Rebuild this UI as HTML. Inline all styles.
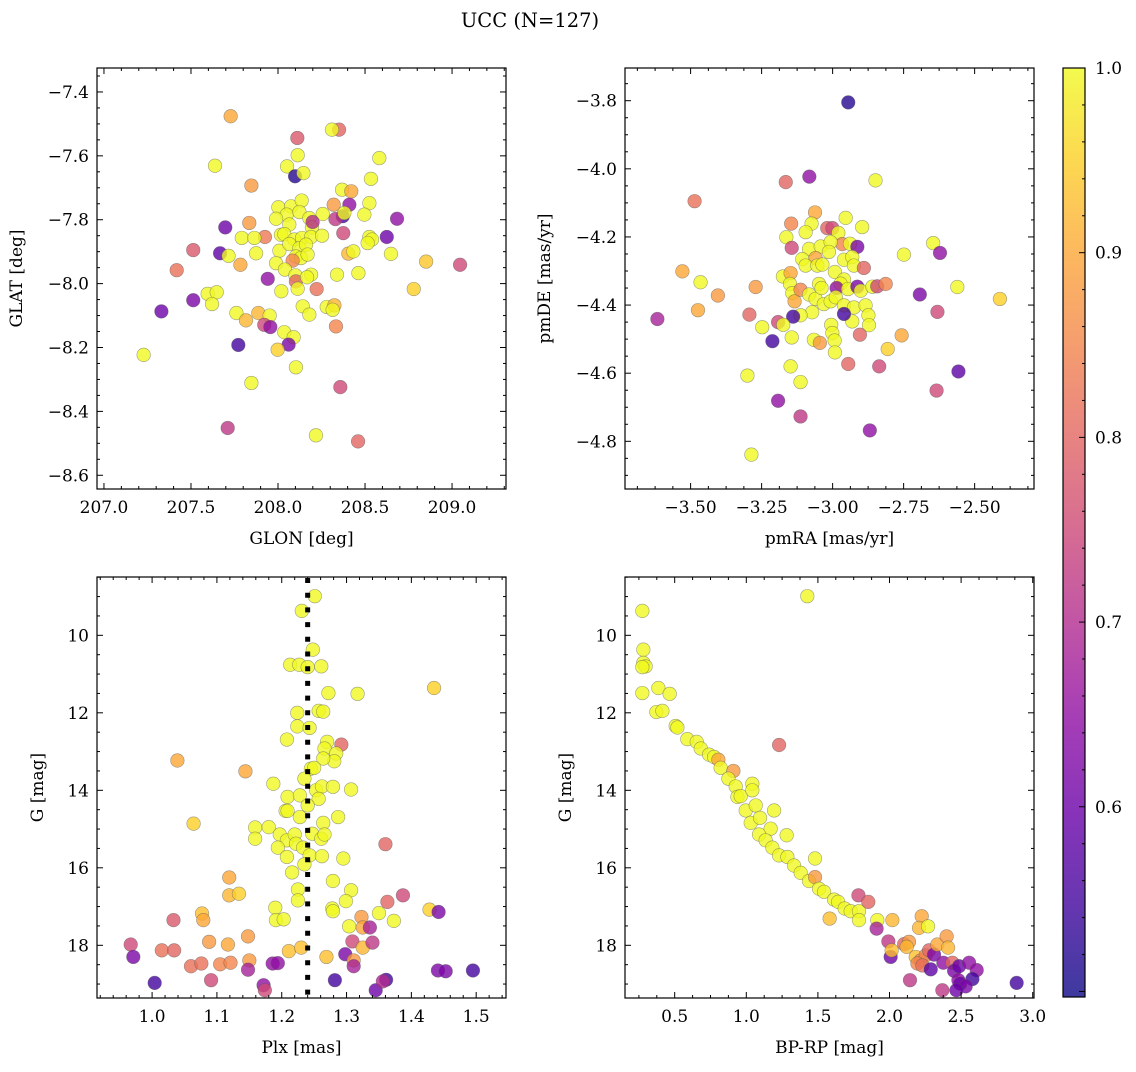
<!DOCTYPE html>
<html><head><meta charset="utf-8">
<style>
html,body{margin:0;padding:0;background:#fff;}
svg text{font-family:"DejaVu Serif","Liberation Serif",serif;fill:#000;}
</style></head>
<body>
<svg id="chart" width="1136" height="1067" viewBox="0 0 1136 1067" xmlns="http://www.w3.org/2000/svg">
<rect width="1136" height="1067" fill="#fff"/>
<text x="530" y="27" font-size="19.5" text-anchor="middle">UCC (N=127)</text>
</svg>
<script>
// ---------- data ----------
const glon=[207.728,208.351,208.310,208.111,208.113,208.582,207.638,208.052,208.098,208.146,207.847,208.534,208.368,208.421,208.320,208.410,208.525,208.372,208.330,208.381,208.496,208.684,207.697,207.835,208.375,208.625,207.513,207.667,207.716,207.418,207.784,207.925,207.792,207.864,207.874,208.525,208.540,208.515,208.404,208.433,208.649,208.851,209.046,207.941,208.222,208.339,208.462,208.780,207.596,207.648,207.621,207.513,207.330,207.761,207.816,207.887,207.952,207.921,207.956,208.142,208.180,208.280,208.324,208.314,208.333,208.036,208.090,208.061,207.998,207.772,207.228,208.103,207.847,208.358,207.711,208.218,208.460,208.002,208.075,208.136,208.050,208.123,208.180,207.989,208.065,208.195,208.257,208.199,208.017,208.036,208.094,208.138,208.190,208.253,208.008,208.065,208.123,208.161,208.103,208.132,208.084,208.170,207.989,208.040,208.100,208.103,208.113,208.190,208.167,208.019];
const glat=[-7.476,-7.518,-7.518,-7.544,-7.598,-7.607,-7.631,-7.633,-7.664,-7.654,-7.693,-7.672,-7.706,-7.711,-7.753,-7.753,-7.748,-7.789,-7.798,-7.779,-7.784,-7.797,-7.824,-7.810,-7.842,-7.854,-7.895,-7.905,-7.913,-7.958,-7.941,-7.854,-7.857,-7.857,-7.905,-7.854,-7.862,-7.873,-7.906,-7.899,-7.907,-7.931,-7.941,-7.985,-8.017,-7.972,-7.967,-8.017,-8.032,-8.027,-8.064,-8.052,-8.087,-8.092,-8.115,-8.092,-8.100,-8.129,-8.136,-8.071,-8.097,-8.073,-8.068,-8.082,-8.134,-8.152,-8.168,-8.191,-8.207,-8.192,-8.223,-8.262,-8.311,-8.324,-8.452,-8.475,-8.494,-7.761,-7.758,-7.740,-7.784,-7.776,-7.795,-7.797,-7.815,-7.824,-7.782,-7.807,-7.847,-7.845,-7.862,-7.857,-7.854,-7.850,-7.897,-7.876,-7.889,-7.878,-7.915,-7.920,-7.928,-7.909,-7.936,-7.956,-7.974,-7.993,-8.016,-7.972,-7.980,-8.024];
const probA=[0.9,0.8,0.98,0.78,0.98,0.98,0.98,0.98,0.52,0.98,0.88,0.98,0.98,0.9,0.88,0.65,0.98,0.55,0.72,0.98,0.98,0.65,0.6,0.88,0.75,0.6,0.78,0.58,0.98,0.82,0.9,0.83,0.98,0.98,0.98,0.98,0.98,0.98,0.92,0.98,0.98,0.94,0.75,0.65,0.82,0.98,0.98,0.95,0.98,0.98,0.98,0.62,0.6,0.98,0.92,0.92,0.98,0.75,0.65,0.98,0.98,0.98,0.92,0.98,0.85,0.98,0.98,0.62,0.95,0.55,0.98,0.98,0.98,0.75,0.72,0.98,0.8,0.98,0.98,0.98,0.98,0.98,0.98,0.98,0.98,0.98,0.98,0.7,0.98,0.98,0.98,0.98,0.98,0.98,0.98,0.98,0.98,0.98,0.98,0.98,0.85,0.98,0.98,0.98,0.98,0.8,0.98,0.98,0.98,0.98];

const pmra=[-2.945,-3.082,-3.165,-2.849,-3.486,-3.062,-3.146,-3.074,-2.954,-2.896,-3.095,-3.019,-3.001,-2.980,-3.163,-3.144,-2.966,-2.939,-2.913,-2.646,-2.622,-2.749,-3.083,-3.042,-3.007,-3.013,-3.107,-3.060,-3.095,-3.054,-3.036,-2.960,-2.931,-2.925,-2.890,-3.529,-3.465,-3.404,-3.271,-3.474,-3.617,-3.175,-3.148,-3.150,-3.142,-3.134,-3.113,-3.083,-3.060,-3.048,-3.039,-2.992,-2.960,-2.972,-2.986,-2.946,-2.913,-2.901,-2.860,-2.843,-2.813,-3.031,-3.007,-2.989,-2.960,-2.925,-2.884,-2.874,-2.872,-2.931,-2.960,-3.072,-3.113,-3.139,-3.192,-3.174,-3.248,-3.144,-3.066,-3.045,-3.005,-3.001,-2.993,-2.992,-2.904,-2.757,-2.806,-2.945,-2.836,-3.212,-2.693,-2.561,-2.411,-2.631,-3.293,-3.300,-3.148,-3.113,-3.192,-3.113,-2.869,-2.634,-2.557,-3.286];
const pmde=[-3.805,-4.023,-4.039,-4.034,-4.095,-4.128,-4.161,-4.161,-4.144,-4.171,-4.186,-4.174,-4.174,-4.188,-4.201,-4.232,-4.221,-4.220,-4.229,-4.218,-4.247,-4.252,-4.235,-4.228,-4.215,-4.244,-4.265,-4.262,-4.284,-4.284,-4.281,-4.267,-4.259,-4.284,-4.291,-4.301,-4.333,-4.372,-4.347,-4.415,-4.441,-4.316,-4.306,-4.338,-4.365,-4.389,-4.355,-4.369,-4.382,-4.338,-4.350,-4.303,-4.325,-4.337,-4.350,-4.353,-4.346,-4.358,-4.346,-4.345,-4.338,-4.397,-4.389,-4.377,-4.401,-4.407,-4.401,-4.430,-4.459,-4.448,-4.426,-4.421,-4.430,-4.434,-4.450,-4.458,-4.465,-4.495,-4.502,-4.511,-4.458,-4.482,-4.504,-4.539,-4.487,-4.489,-4.529,-4.573,-4.580,-4.506,-4.369,-4.347,-4.382,-4.420,-4.428,-4.607,-4.580,-4.626,-4.681,-4.727,-4.768,-4.651,-4.595,-4.839];
const probB=[0.52,0.65,0.8,0.98,0.82,0.9,0.85,0.98,0.98,0.98,0.98,0.8,0.75,0.98,0.98,0.75,0.85,0.98,0.62,0.98,0.65,0.98,0.98,0.98,0.98,0.98,0.98,0.9,0.98,0.98,0.98,0.98,0.98,0.98,0.8,0.9,0.98,0.88,0.88,0.9,0.68,0.98,0.9,0.98,0.98,0.9,0.85,0.98,0.98,0.98,0.98,0.98,0.98,0.98,0.65,0.98,0.62,0.98,0.98,0.75,0.85,0.98,0.98,0.98,0.98,0.98,0.98,0.98,0.98,0.98,0.55,0.98,0.98,0.55,0.75,0.98,0.98,0.98,0.98,0.88,0.98,0.98,0.98,0.98,0.8,0.9,0.95,0.8,0.75,0.55,0.62,0.98,0.95,0.75,0.8,0.98,0.98,0.98,0.65,0.72,0.65,0.75,0.58,0.98];

const plx=[1.251,1.231,1.248,1.213,1.227,1.240,1.261,1.435,1.272,1.317,1.224,1.257,1.264,1.224,1.243,1.208,1.039,1.292,1.270,1.266,1.284,1.281,1.264,1.144,1.245,1.250,1.187,1.235,1.209,1.228,1.253,1.262,1.279,1.307,1.257,1.240,1.206,1.209,1.228,1.264,1.287,1.064,1.159,1.180,1.159,1.197,1.208,1.220,1.222,1.194,1.247,1.261,1.266,1.233,1.243,1.262,1.208,1.216,1.235,1.295,1.360,1.119,1.119,1.134,1.225,1.225,1.279,1.307,1.299,1.387,1.363,1.428,1.442,1.033,1.077,1.079,1.190,1.191,1.203,1.278,1.279,1.350,1.373,1.323,1.304,1.325,1.336,0.967,0.971,1.004,1.015,1.034,1.060,1.076,1.091,1.088,1.117,1.105,1.121,1.148,1.150,1.148,1.186,1.194,1.172,1.174,1.211,1.230,1.269,1.309,1.325,1.340,1.298,1.311,1.311,1.282,1.345,1.361,1.356,1.441,1.453,1.495];
const gmagC=[8.99,9.37,10.37,10.76,10.76,10.82,10.80,11.36,11.49,11.51,12.00,11.95,11.97,12.35,12.39,12.69,13.23,12.82,12.75,12.92,13.05,13.25,13.18,13.51,13.44,13.42,13.83,13.70,14.17,14.13,14.00,13.90,13.91,13.98,14.22,14.39,14.53,14.53,14.69,14.84,14.69,14.86,14.96,14.95,15.25,15.14,15.29,15.14,15.38,15.48,15.12,15.25,15.14,15.48,15.68,15.70,15.72,16.12,15.91,15.76,15.39,16.25,16.71,16.67,16.56,16.84,16.34,16.58,16.86,16.71,16.88,17.08,17.14,17.35,17.18,17.35,17.03,17.35,17.33,17.05,17.12,17.17,17.37,17.27,17.51,17.54,17.54,17.98,18.30,18.97,18.13,18.13,18.54,18.47,18.90,17.91,17.98,18.49,18.45,17.77,18.39,18.63,18.47,18.46,19.03,19.16,18.15,18.06,18.30,17.90,18.06,17.93,18.23,18.39,18.54,18.90,19.16,18.89,18.93,18.65,18.67,18.65];
const probC=[0.98,0.98,0.98,0.98,0.98,0.98,0.98,0.95,0.98,0.98,0.98,0.98,0.98,0.98,0.98,0.98,0.9,0.8,0.98,0.98,0.98,0.98,0.98,0.9,0.98,0.98,0.98,0.98,0.98,0.98,0.98,0.98,0.98,0.98,0.98,0.98,0.98,0.98,0.98,0.98,0.98,0.95,0.98,0.98,0.98,0.98,0.98,0.98,0.98,0.98,0.98,0.98,0.98,0.98,0.98,0.98,0.98,0.98,0.98,0.98,0.8,0.9,0.92,0.95,0.98,0.98,0.98,0.98,0.98,0.75,0.8,0.95,0.62,0.78,0.93,0.9,0.98,0.98,0.98,0.98,0.98,0.98,0.98,0.88,0.98,0.9,0.68,0.75,0.62,0.55,0.82,0.8,0.82,0.82,0.75,0.88,0.9,0.85,0.85,0.88,0.88,0.68,0.65,0.65,0.65,0.75,0.93,0.93,0.93,0.75,0.92,0.72,0.62,0.88,0.68,0.55,0.6,0.55,0.7,0.62,0.62,0.55];

const bprp=[1.426,0.274,0.281,0.281,0.297,0.274,0.274,0.386,0.465,0.372,0.414,0.507,0.519,0.588,0.654,0.682,0.740,0.775,0.805,0.821,1.229,0.910,0.875,0.926,0.938,0.961,1.042,1.042,0.996,1.066,1.194,1.031,1.096,1.170,1.089,1.135,1.182,1.282,1.229,1.287,1.333,1.380,1.438,1.480,1.480,1.508,1.543,1.613,1.641,1.687,1.729,1.787,1.787,1.582,1.783,1.852,1.915,1.910,2.020,2.225,2.206,2.269,1.992,2.008,2.015,2.102,2.136,2.120,2.183,2.218,2.253,2.276,2.311,2.334,2.399,2.409,2.195,2.230,2.288,2.376,2.439,2.451,2.486,2.556,2.609,2.579,2.481,2.493,2.532,2.467,2.369,2.143,2.888];
const gmagD=[8.99,9.37,10.37,10.71,10.80,10.82,11.49,11.36,11.51,11.98,11.95,12.34,12.38,12.68,12.75,12.92,13.08,13.14,13.21,13.42,12.83,13.50,13.70,13.90,14.17,14.15,13.83,14.00,14.52,14.39,14.52,14.84,14.71,14.99,15.14,15.29,15.48,15.16,15.68,15.72,15.94,16.13,16.34,15.76,16.24,16.54,16.62,16.82,16.88,17.05,17.12,17.12,17.35,17.31,16.71,16.88,17.35,17.57,17.35,17.25,17.55,17.51,17.90,18.30,18.13,17.97,17.91,18.04,18.30,18.39,18.26,18.13,18.24,17.98,17.77,18.06,18.47,18.52,18.62,18.45,18.45,18.66,18.54,18.45,18.64,18.87,18.90,18.99,19.06,19.16,19.16,18.90,18.97];
const probD=[0.98,0.98,0.98,0.98,0.98,0.98,0.98,0.98,0.98,0.98,0.98,0.98,0.98,0.98,0.98,0.98,0.98,0.98,0.9,0.98,0.8,0.88,0.98,0.98,0.98,0.98,0.98,0.98,0.98,0.98,0.98,0.98,0.98,0.98,0.98,0.98,0.98,0.98,0.98,0.98,0.98,0.98,0.98,0.98,0.88,0.98,0.98,0.98,0.98,0.98,0.98,0.98,0.98,0.93,0.75,0.8,0.98,0.68,0.92,0.9,0.92,0.98,0.72,0.6,0.93,0.8,0.88,0.92,0.93,0.85,0.85,0.8,0.62,0.9,0.88,0.92,0.85,0.82,0.58,0.65,0.8,0.62,0.6,0.65,0.65,0.55,0.65,0.6,0.62,0.6,0.72,0.72,0.55];

const plxLine=[1.240];
const colorTicks=[0.6,0.7,0.8,0.9,1.0];

// ---------- helpers ----------
const NS="http://www.w3.org/2000/svg";
const svg=document.getElementById('chart');
function mk(tag,attrs,parent){const e=document.createElementNS(NS,tag);for(const k in attrs)e.setAttribute(k,attrs[k]);(parent||svg).appendChild(e);return e;}
const VMIN=0.497,VMAX=1.0;
const stops=[[13,8,135],[65,4,157],[106,0,168],[143,13,164],[177,42,144],[204,71,120],[225,100,98],[242,132,75],[252,166,54],[252,206,37],[240,249,33]];
function plasma(v){let t=Math.max(0,Math.min(1,(v-VMIN)/(VMAX-VMIN)))*10;const i=Math.min(9,Math.floor(t)),f=t-i;const a=stops[i],b=stops[i+1];return 'rgb('+a.map((x,k)=>Math.round(x+(b[k]-x)*f)).join(',')+')';}
function scale(d0,d1,r0,r1){return v=>r0+(v-d0)/(d1-d0)*(r1-r0);}
function fmt(v,dec){return (v<0?'\u2212':'')+Math.abs(v).toFixed(dec);}

function panel(o){
  const g=mk('g',{});
  
  
  const [x0,y0,x1,y1]=o.box;
  const sx=scale(o.xd[0],o.xd[1],x0,x1), sy=scale(o.yd[0],o.yd[1],y0,y1);
  const pg=mk('g',{},g);
  
  
  for(let i=0;i<o.xs.length;i++){
    const cv=o.cs[i]>=0.98?1.0:o.cs[i];
    const c=mk('circle',{cx:sx(o.xs[i]),cy:sy(o.ys[i]),r:6.8,fill:plasma(cv),'fill-opacity':0.8,stroke:'#555','stroke-opacity':0.55,'stroke-width':0.6},pg);
    
    
  }
  if(o.extra)o.extra(g,sx,sy);
  const fr=mk('rect',{x:x0,y:y0,width:x1-x0,height:y1-y0,fill:'none',stroke:'#000','stroke-width':1.2},g);
  
  
  const lo=(a,b)=>Math.min(a,b), hi=(a,b)=>Math.max(a,b);
  const xa=mk('g',{},g);
  
  
  for(let v=Math.ceil(lo(...o.xd)/o.xmin-1e-6)*o.xmin; v<=hi(...o.xd)+1e-9; v+=o.xmin){
    const px=sx(v); const maj=Math.abs(v/o.xmaj-Math.round(v/o.xmaj))<1e-4; const L=maj?6:3;
    mk('line',{x1:px,x2:px,y1:y1,y2:y1-L,stroke:'#000','stroke-width':1},xa);
    mk('line',{x1:px,x2:px,y1:y0,y2:y0+L,stroke:'#000','stroke-width':1},xa);
    if(maj){const t=mk('text',{x:px,y:y1+24,'font-size':17,'text-anchor':'middle'},xa);t.textContent=fmt(Math.round(v/o.xmaj)*o.xmaj,o.xdec);
      
      }
  }
  const ya=mk('g',{},g);
  
  
  for(let v=Math.ceil(lo(...o.yd)/o.ymin-1e-6)*o.ymin; v<=hi(...o.yd)+1e-9; v+=o.ymin){
    const py=sy(v); const maj=Math.abs(v/o.ymaj-Math.round(v/o.ymaj))<1e-4; const L=maj?6:3;
    mk('line',{x1:x0,x2:x0+L,y1:py,y2:py,stroke:'#000','stroke-width':1},ya);
    mk('line',{x1:x1,x2:x1-L,y1:py,y2:py,stroke:'#000','stroke-width':1},ya);
    if(maj){const t=mk('text',{x:x0-8,y:py+6,'font-size':17,'text-anchor':'end'},ya);t.textContent=fmt(Math.round(v/o.ymaj)*o.ymaj,o.ydec);
      
      }
  }
  const xl=mk('text',{x:(x0+x1)/2,y:y1+55,'font-size':17,'text-anchor':'middle'},g);
  xl.textContent=o.xlabel;
  
  
  const yl=mk('text',{x:o.ylx,y:(y0+y1)/2,'font-size':17,'text-anchor':'middle',transform:'rotate(-90 '+o.ylx+' '+((y0+y1)/2)+')'},g);
  yl.textContent=o.ylabel;
  
  
}

panel({name:'glon-glat-panel',box:[97,68,506,489],xd:[206.96,209.31],yd:[-7.325,-8.643],xs:glon,ys:glat,cs:probA,
  xmaj:0.5,xmin:0.1,xdec:1,ymaj:0.2,ymin:0.05,ydec:1,xlabel:'GLON [deg]',ylabel:'GLAT [deg]',ylx:22});
panel({name:'pm-panel',box:[625,68,1034,489],xd:[-3.731,-2.291],yd:[-3.704,-4.940],xs:pmra,ys:pmde,cs:probB,
  xmaj:0.25,xmin:0.0625,xdec:2,ymaj:0.2,ymin:0.05,ydec:1,xlabel:'pmRA [mas/yr]',ylabel:'pmDE [mas/yr]',ylx:550});
panel({name:'plx-g-panel',box:[97,577,506,998],xd:[0.915,1.546],yd:[8.495,19.36],xs:plx,ys:gmagC,cs:probC,
  xmaj:0.1,xmin:0.02,xdec:1,ymaj:2,ymin:0.5,ydec:0,xlabel:'Plx [mas]',ylabel:'G [mag]',ylx:43,
  extra:(g,sx,sy)=>{plxLine.forEach(v=>{const l=mk('line',{x1:sx(v),x2:sx(v),y1:578,y2:997,stroke:'#000','stroke-width':5,'stroke-dasharray':'5 9.7'},g);
    
    });}});
panel({name:'cmd-panel',box:[625,577,1034,998],xd:[0.153,3.009],yd:[8.495,19.36],xs:bprp,ys:gmagD,cs:probD,
  xmaj:0.5,xmin:0.125,xdec:1,ymaj:2,ymin:0.5,ydec:0,xlabel:'BP-RP [mag]',ylabel:'G [mag]',ylx:571});

// ---------- colorbar ----------
(function(){
  const cb=mk('g',{});
  
  
  const X0=1063,X1=1085,Y0=68,Y1=997;
  const sy=scale(VMAX,VMIN,Y0,Y1);
  const defs=mk('defs',{},cb);
  const grad=mk('linearGradient',{id:'cbg',x1:0,y1:1,x2:0,y2:0},defs);
  for(let k=0;k<=20;k++){const v=VMIN+(VMAX-VMIN)*k/20;mk('stop',{offset:(k*5)+'%','stop-color':plasma(v),'stop-opacity':0.8},grad);}
  mk('rect',{x:X0,y:Y0,width:X1-X0,height:Y1-Y0,fill:'url(#cbg)',stroke:'#000','stroke-width':1.2},cb);
  for(let v=0.5;v<=1.0001;v+=0.02){if(v<VMIN)continue;const py=sy(v);const maj=Math.abs(v*10-Math.round(v*10))<1e-4;
    mk('line',{x1:X1,x2:X1-(maj?6:3),y1:py,y2:py,stroke:'#000','stroke-width':1},cb);}
  colorTicks.forEach(v=>{const t=mk('text',{x:X1+10,y:sy(v)+6,'font-size':17},cb);t.textContent=v.toFixed(1);
    
    });
})();
</script>
</body></html>
